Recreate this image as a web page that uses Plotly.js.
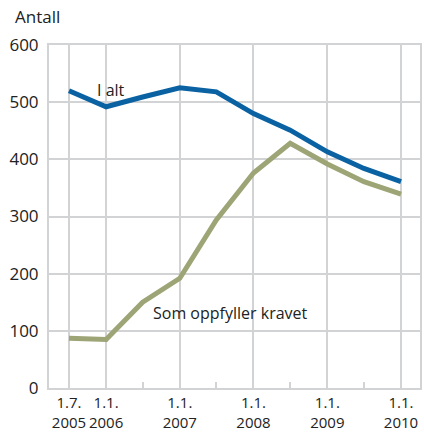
<!DOCTYPE html>
<html>
<head>
<meta charset="utf-8">
<script src="https://cdn.plot.ly/plotly-3.0.1.min.js"></script>
<style>html,body{margin:0;padding:0;background:#fff;}#chart{width:424px;height:432px;}</style>
</head>
<body>
<div id="chart"></div>
<script>
// Data
const dates = ["2005-07-01","2006-01-01","2006-07-01","2007-01-01","2007-07-01","2008-01-01","2008-07-01","2009-01-01","2009-07-01","2010-01-01"];
const iAlt = [520, 492, 509, 525, 518, 480, 451, 413, 384, 361];
const somOppfyller = [87, 85, 150, 192, 294, 376, 428, 392, 361, 339];
const tickDates = ["2005-07-01","2006-01-01","2007-01-01","2008-01-01","2009-01-01","2010-01-01"];
const tickLabels = ["1.7.<br>2005","1.1.<br>2006","1.1.<br>2007","1.1.<br>2008","1.1.<br>2009","1.1.<br>2010"];
const yTicks = [0, 100, 200, 300, 400, 500, 600];

const FONT = "Open Sans, DejaVu Sans, sans-serif";
const GRID = "#d2d3d5";
const TXT = "#222222";

const traces = [
  {x: dates, y: iAlt, type: "scatter", mode: "lines", name: "I alt",
   line: {color: "#0a62a3", width: 5}, hoverinfo: "skip"},
  {x: dates, y: somOppfyller, type: "scatter", mode: "lines", name: "Som oppfyller kravet",
   line: {color: "#9da475", width: 5}, hoverinfo: "skip"}
];

const layout = {
  width: 424, height: 432,
  margin: {l: 49, r: 4, t: 45, b: 44},
  paper_bgcolor: "#fff", plot_bgcolor: "#fff",
  showlegend: false,
  font: {family: FONT, color: TXT, size: 17},
  xaxis: {
    type: "date",
    range: ["2005-03-24", "2010-04-05"],
    tickmode: "array", tickvals: tickDates, ticktext: tickLabels,
    tickangle: 0, automargin: false,
    tickfont: {size: 15, color: TXT},
    showgrid: true, gridcolor: GRID, gridwidth: 2,
    showline: true, linecolor: GRID, linewidth: 2, mirror: true,
    ticks: "", zeroline: false,
    minor: {ticks: "inside", ticklen: 6, tickcolor: GRID, tickwidth: 2, dtick: "M12", tick0: "2006-07-01", showgrid: false},
    fixedrange: true
  },
  yaxis: {
    range: [0, 600],
    tickmode: "array", tickvals: yTicks,
    tickfont: {size: 17, color: TXT},
    showgrid: true, gridcolor: GRID, gridwidth: 2,
    showline: true, linecolor: GRID, linewidth: 2, mirror: true,
    ticks: "outside", ticklen: 5, tickcolor: "rgba(0,0,0,0)",
    zeroline: false, fixedrange: true, automargin: false
  },
  annotations: [
    {text: "Antall", xref: "paper", yref: "paper", x: -0.097, y: 1.082, xanchor: "left", yanchor: "middle",
     showarrow: false, font: {size: 17, color: TXT}},
    {text: "I alt", xref: "x", yref: "y", x: "2006-01-26", y: 521, xanchor: "center", yanchor: "middle",
     showarrow: false, font: {size: 16, color: TXT}},
    {text: "Som oppfyller kravet", xref: "x", yref: "y", x: "2007-09-08", y: 131, xanchor: "center", yanchor: "middle",
     showarrow: false, font: {size: 16, color: TXT}}
  ]
};

Plotly.newPlot("chart", traces, layout, {staticPlot: true, displayModeBar: false});
</script>
</body>
</html>
